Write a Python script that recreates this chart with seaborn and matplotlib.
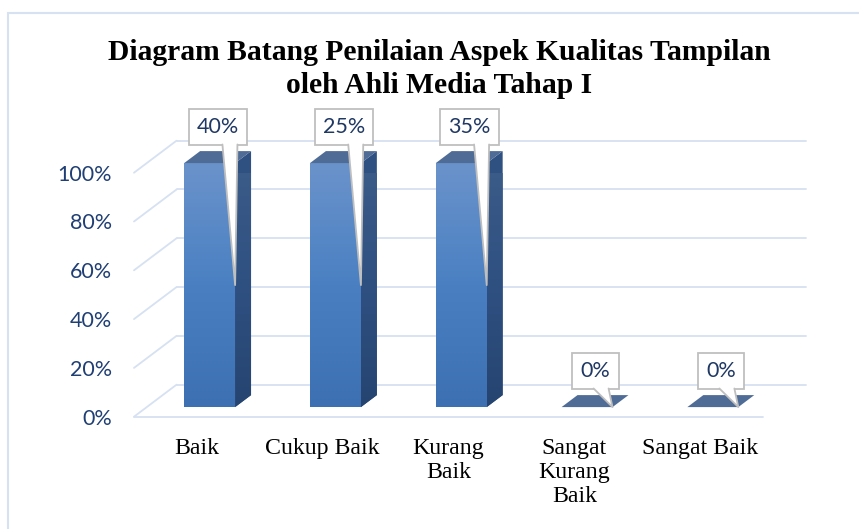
import numpy as np
import pandas as pd
import matplotlib
matplotlib.use("Agg")
import matplotlib.pyplot as plt
import seaborn as sns
from matplotlib.patches import Polygon, Rectangle
from matplotlib.lines import Line2D
from matplotlib.colors import LinearSegmentedColormap
from matplotlib.transforms import IdentityTransform

# ---------------- data ----------------
categories = ["Baik", "Cukup Baik", "Kurang Baik", "Sangat Kurang Baik", "Sangat Baik"]
tick_labels = ["Baik", "Cukup Baik", "Kurang\nBaik", "Sangat\nKurang\nBaik", "Sangat Baik"]
bar_heights = [100, 100, 100, 0, 0]
label_values = [40, 25, 35, 0, 0]
y_ticks = [0, 20, 40, 60, 80, 100]
y_tick_labels = ["0%", "20%", "40%", "60%", "80%", "100%"]
title_lines = ["Diagram Batang Penilaian Aspek Kualitas Tampilan", "oleh Ahli Media Tahap I"]

# ---------------- figure ----------------
W, H, DPI = 859, 529, 100
sns.set_theme(style="white")
fig = plt.figure(figsize=(W / DPI, H / DPI), dpi=DPI)
fig.patch.set_facecolor("white")

# axes = front plane of the 3D box
ax = fig.add_axes([134 / W, 1 - 416.7 / H, 629 / W, 244 / H])
ax.set_facecolor("none")
df = pd.DataFrame({"Kategori": categories, "Nilai": bar_heights})
sns.barplot(data=df, x="Kategori", y="Nilai", ax=ax, width=0.405,
            color="#4A7EBB", saturation=1, zorder=3)
ax.set_xlim(-0.5, 4.5)
ax.set_ylim(0, 100)
for s in ax.spines.values():
    s.set_visible(False)
ax.set_xlabel("")
ax.set_ylabel("")

# depth vector (data units) : full box depth, bar front offset, bar depth
ppx = 629 / 5.0
ppy = 244 / 100.0
dX, dY = 42.5 / ppx, 32.0 / ppy
fX, fY = 0.3 * dX, 0.3 * dY
bX, bY = 0.375 * dX, 0.375 * dY

grid_c = "#D6E1F1"
for v in y_ticks:
    ax.add_line(Line2D([-0.5 + dX, 4.5 + dX], [v + dY, v + dY], color=grid_c, lw=1.3, zorder=1, clip_on=False))
    ax.add_line(Line2D([-0.5, -0.5 + dX], [v, v + dY], color=grid_c, lw=1.3, zorder=1, clip_on=False))
ax.add_line(Line2D([-0.5, 4.5], [0, 0], color=grid_c, lw=1.3, zorder=1, clip_on=False))

front_cmap = LinearSegmentedColormap.from_list("front", ["#3C70B2", "#4A80C2", "#6B93CB"])
side_cmap = LinearSegmentedColormap.from_list("side", ["#264470", "#2F5182", "#3D5D89"])
grad = np.linspace(0, 1, 256).reshape(-1, 1)

tips = []
anns = []
for i, p in enumerate(ax.patches):
    x0 = p.get_x() + fX
    w = p.get_width()
    h = p.get_height()
    base = fY
    p.set_x(x0)
    p.set_y(base)
    p.set_edgecolor("none")
    p.set_clip_on(False)
    if h > 0:
        im = ax.imshow(grad, extent=[x0, x0 + w, base, base + h], origin="lower",
                       cmap=front_cmap, aspect="auto", zorder=3.1)
        im.set_clip_path(p)
        side = Polygon([(x0 + w, base), (x0 + w, base + h), (x0 + w + bX, base + h + bY),
                        (x0 + w + bX, base + bY)], closed=True, fc="#2F5182", ec="none",
                       zorder=3, clip_on=False)
        ax.add_patch(side)
        im2 = ax.imshow(grad, extent=[x0 + w, x0 + w + bX, base, base + h + bY], origin="lower",
                        cmap=side_cmap, aspect="auto", zorder=3.1)
        im2.set_clip_path(side)
    top = Polygon([(x0, base + h), (x0 + w, base + h), (x0 + w + bX, base + h + bY),
                   (x0 + bX, base + h + bY)], closed=True, fc="#4F6C96", ec="none",
                  zorder=3.2, clip_on=False)
    ax.add_patch(top)
    tips.append((x0 + w, base + h / 2.0))
    ann = ax.annotate(f"{label_values[i]}%", xy=(x0 + w, base + h), xytext=(-17, 36),
                      textcoords="offset pixels", ha="center", va="center",
                      fontsize=15.5, family="Lato", color="#1F3864",
                      bbox=dict(boxstyle="square,pad=0.38", fc="white", ec="#BFBFBF", lw=1.3),
                      zorder=6, annotation_clip=False)
    anns.append(ann)

ax.set_xlim(-0.5, 4.5)
ax.set_ylim(0, 100)

# ticks
ax.set_yticks(y_ticks)
ax.set_yticklabels(y_tick_labels)
ax.tick_params(axis="y", length=0, pad=16, labelsize=15.5, labelcolor="#203F74")
for lbl in ax.get_yticklabels():
    lbl.set_family("Lato")
ax.set_xticks(range(len(categories)))
ax.set_xticklabels(tick_labels)
ax.tick_params(axis="x", length=0, pad=15.5, labelsize=17.2, labelcolor="black")
for lbl in ax.get_xticklabels():
    lbl.set_family("Liberation Serif")
    lbl.set_linespacing(1.18)

# title
fig.text(439 / W, 1 - 59.5 / H, title_lines[0], ha="center", va="baseline",
         family="Liberation Serif", weight="bold", size=21.3, color="black")
fig.text(439 / W, 1 - 93 / H, title_lines[1], ha="center", va="baseline",
         family="Liberation Serif", weight="bold", size=21.3, color="black")

# chart border
fig.add_artist(Rectangle((8 / W, -0.1), 2, 1.1 - 13 / H, transform=fig.transFigure,
                         fill=False, ec="#D6E2F2", lw=1.5))

# callout pointers
fig.canvas.draw()
r = fig.canvas.get_renderer()
for ann, tip in zip(anns, tips):
    bb = ann.get_bbox_patch().get_window_extent(r)
    tx, ty = ax.transData.transform(tip)
    bl = (bb.x1 - 25, bb.y0 + 0.8)
    br = (bb.x1 - 10, bb.y0 + 0.8)
    ax.add_patch(Polygon([(bl[0], bl[1] + 1.5), bl, (tx, ty), br, (br[0], br[1] + 1.5)],
                         closed=True, fc="white", ec="none", transform=IdentityTransform(),
                         zorder=7, clip_on=False))
    ax.add_line(Line2D([bl[0], tx, br[0]], [bl[1], ty, br[1]], color="#BFBFBF", lw=1.3,
                       transform=IdentityTransform(), zorder=7.1, clip_on=False))

fig.savefig("out.png", dpi=DPI)
